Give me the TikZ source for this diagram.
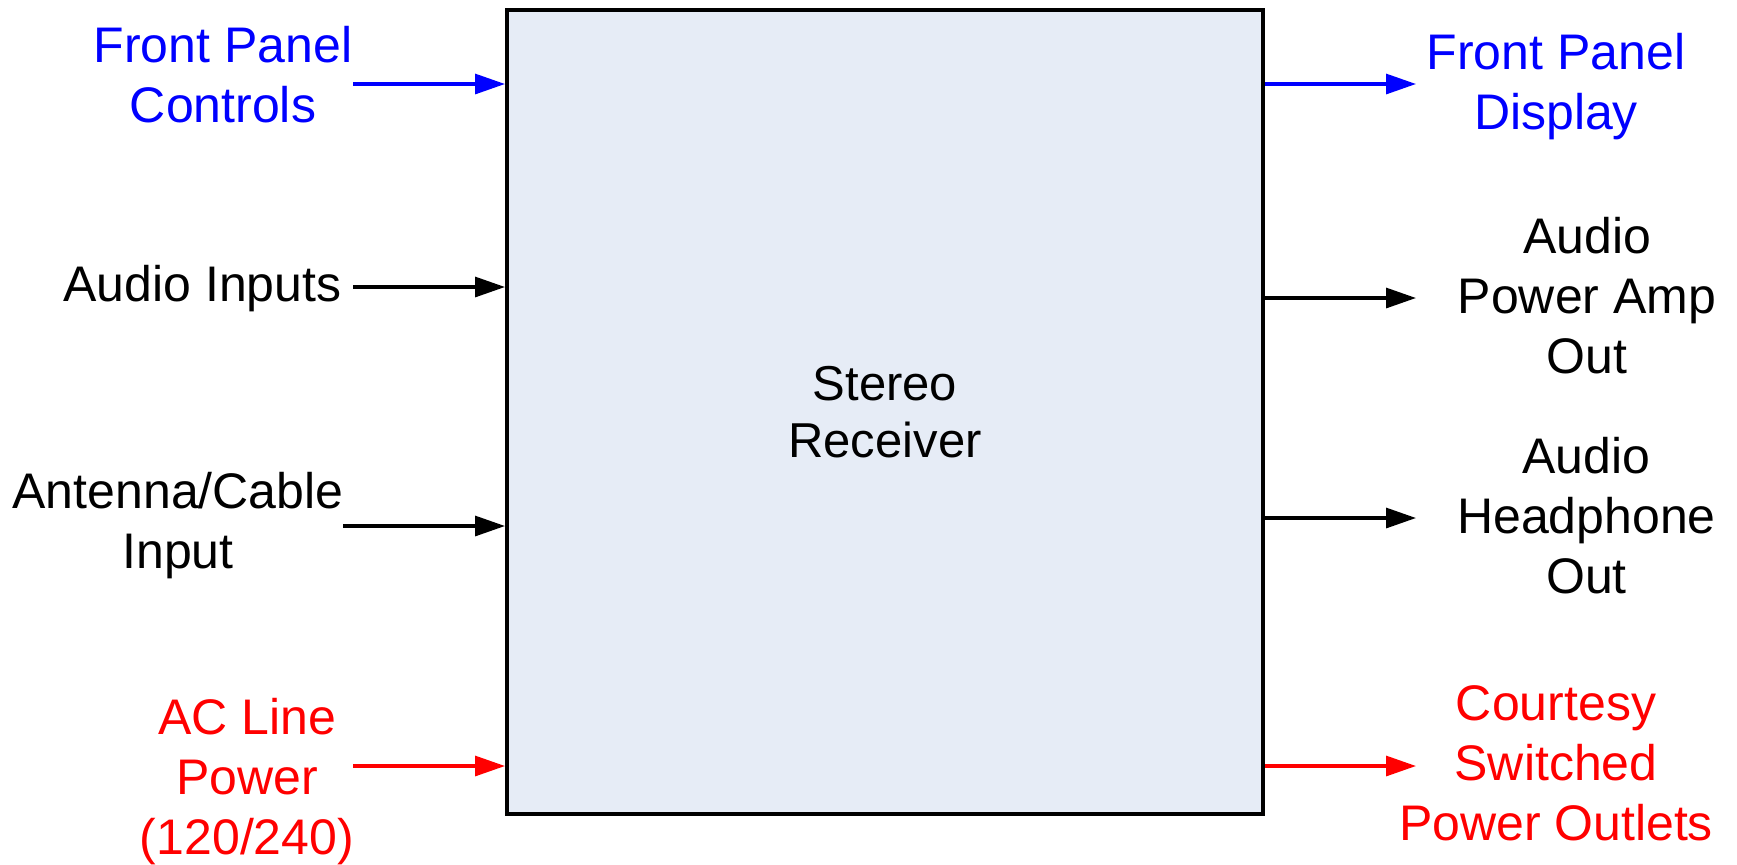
\documentclass[tikz,border=0pt]{standalone}
\usepackage{fontspec}
\setmainfont{Liberation Sans}
\usetikzlibrary{arrows.meta}
\definecolor{rxfill}{RGB}{230,236,246}

\begin{document}
\begin{tikzpicture}[x=0.5pt,y=-0.5pt,
  every node/.style={font=\fontsize{25}{30}\selectfont,align=center,inner sep=0pt},
  sig/.style={line width=1.6pt,-{Triangle[length=15pt,width=10pt]}},
  unit/.style={draw,line width=2pt,fill=rxfill,minimum width=378pt,minimum height=402pt,
    font=\fontsize{24.5}{28.4}\selectfont}]
\useasboundingbox (0,0) rectangle (1737,864);

\node(RX) [unit] at (885,412) {Stereo\\Receiver};

% inputs, left side
\node(FPC) [text=blue] at (223,74.5) {Front Panel\\Controls};
\node(AIN) at (202.5,289) {Audio Inputs};
\node(ANT) at (178,526) {Antenna/Cable\\Input};
\node(ACP) [text=red] at (247,781.5) {AC Line\\Power\\(120/240)};

\coordinate(FPCa) at (353,84);
\coordinate(AINa) at (353,287);
\coordinate(ANTa) at (343,526);
\coordinate(ACPa) at (353,766);

\draw[sig,blue] (FPCa) -- (FPCa -| RX.west);
\draw[sig] (AINa) -- (AINa -| RX.west);
\draw[sig] (ANTa) -- (ANTa -| RX.west);
\draw[sig,red] (ACPa) -- (ACPa -| RX.west);

% outputs, right side
\node(FPD) [text=blue] at (1556,87) {Front Panel\\Display};
\node(AMP) at (1587,296) {Audio\\Power Amp\\Out};
\node(HPH) at (1586.5,516) {Audio\\Headphone\\Out};
\node(CSO) [text=red] at (1556,763.5) {Courtesy\\Switched\\Power Outlets};

\coordinate(FPDa) at (1416,84);
\coordinate(AMPa) at (1416,298);
\coordinate(HPHa) at (1416,518);
\coordinate(CSOa) at (1416,766);

\draw[sig,blue] (RX.east |- FPDa) -- (FPDa);
\draw[sig] (RX.east |- AMPa) -- (AMPa);
\draw[sig] (RX.east |- HPHa) -- (HPHa);
\draw[sig,red] (RX.east |- CSOa) -- (CSOa);
\end{tikzpicture}
\end{document}
